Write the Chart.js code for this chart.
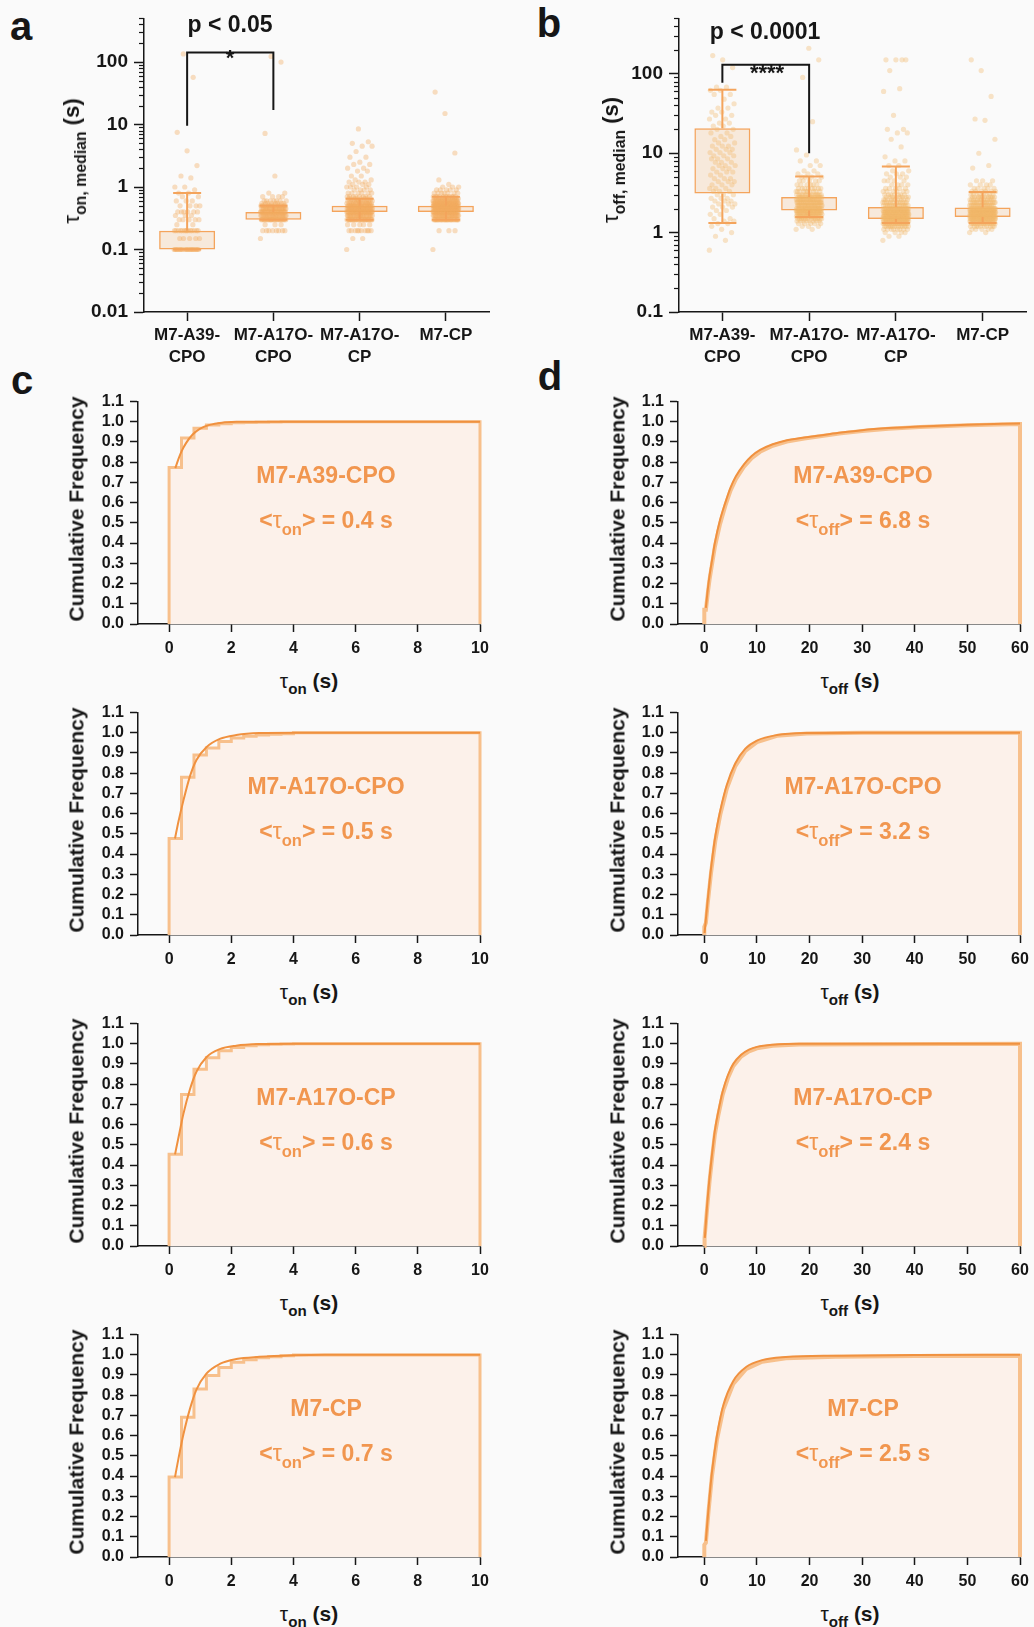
<!DOCTYPE html>
<html>
<head>
<meta charset="utf-8">
<script src="https://cdn.jsdelivr.net/npm/chart.js@4.4.1/dist/chart.umd.min.js"></script>
<style>
  body { margin: 0; background: #fafafa; }
  #fig { position: relative; width: 1034px; height: 1627px; font-family: "Liberation Sans", Arial, sans-serif; color: #161616; }
  #fig canvas { position: absolute; }
  .lbl { position: absolute; transform: translate(-50%, -50%); white-space: nowrap; font-weight: bold; line-height: 1; }
  .lbl sub { font-size: 0.72em; vertical-align: -0.45em; line-height: 0; }
  .tau { font-weight: normal; }
</style>
</head>
<body>
<div id="fig"></div>
<script>
// groups shown in every panel
const groupNames = ['M7-A39-CPO', 'M7-A17O-CPO', 'M7-A17O-CP', 'M7-CP'];
const groupTicks = [['M7-A39-', 'CPO'], ['M7-A17O-', 'CPO'], ['M7-A17O-', 'CP'], 'M7-CP'];

// mean dwell times from the exponential fits (s)
const meanOn = [0.4, 0.5, 0.6, 0.7];
const meanOff = [6.8, 3.2, 2.4, 2.5];

// panel a: per-molecule median tau_on (s), box = quartiles, whiskers
const onQ1 = [0.1, 0.3, 0.4, 0.4];
const onQ3 = [0.2, 0.4, 0.5, 0.5];
const onLo = [0.1, 0.3, 0.3, 0.3];
const onHi = [0.8, 0.5, 0.65, 0.7];
// molecule values and how many molecules share each value
const onVals = [
  [0.1, 0.15, 0.2, 0.25, 0.3, 0.35, 0.4, 0.5, 0.6, 0.7, 0.8, 0.9, 1.0, 1.4, 1.5, 2.2, 3.8, 7.5, 57, 135],
  [0.15, 0.2, 0.25, 0.3, 0.35, 0.4, 0.45, 0.5, 0.55, 0.6, 0.7, 0.8, 1.5, 7.2, 100, 123],
  [0.1, 0.15, 0.2, 0.25, 0.3, 0.35, 0.4, 0.45, 0.5, 0.55, 0.6, 0.65, 0.7, 0.8, 0.9, 1.0, 1.1, 1.2, 1.3, 1.5, 1.8, 2.0, 2.3, 2.5, 3.0, 3.7, 4.5, 5.0, 5.3, 8.5],
  [0.1, 0.2, 0.3, 0.35, 0.4, 0.45, 0.5, 0.55, 0.6, 0.65, 0.7, 0.8, 0.9, 1.0, 1.1, 1.3, 3.5, 15, 33]
];
const onCounts = [
  [20, 5, 14, 2, 5, 3, 6, 4, 3, 2, 2, 1, 2, 1, 1, 1, 1, 1, 1, 1],
  [1, 8, 3, 22, 26, 30, 24, 18, 8, 7, 4, 2, 1, 1, 1, 1],
  [1, 2, 10, 5, 28, 28, 40, 32, 30, 14, 14, 8, 8, 6, 4, 4, 3, 3, 2, 2, 2, 2, 2, 1, 2, 1, 2, 1, 1, 1],
  [1, 3, 28, 32, 45, 45, 45, 28, 22, 14, 11, 7, 5, 3, 1, 1, 1, 1, 1]
];

// panel b: per-molecule median tau_off (s)
const offQ1 = [3.1, 1.9, 1.48, 1.57];
const offQ3 = [20.7, 2.8, 2.1, 2.07];
const offLo = [1.32, 1.57, 1.32, 1.32];
const offHi = [63, 5.1, 6.8, 3.25];
const offVals = [
  [0.6, 0.8, 0.9, 1.0, 1.1, 1.2, 1.3, 1.4, 1.5, 1.7, 1.9, 2.1, 2.3, 2.5, 2.7, 3.0, 3.3, 3.6, 4.0, 4.4, 4.8, 5.3, 5.8, 6.4, 7.0, 7.7, 8.5, 9.3, 10.2, 11.2, 12.3, 13.5, 14.8, 16.3, 18, 20, 22, 24, 27, 30, 33, 37, 42, 48, 55, 62, 68, 120, 150, 170],
  [1.1, 1.2, 1.3, 1.4, 1.5, 1.6, 1.7, 1.8, 1.9, 2.0, 2.2, 2.4, 2.6, 2.8, 3.0, 3.3, 3.6, 4.0, 4.5, 5.0, 5.5, 6.0, 7.0, 8.0, 9.5, 11, 25, 90, 150, 210],
  [0.8, 0.9, 1.0, 1.1, 1.2, 1.3, 1.4, 1.5, 1.6, 1.7, 1.8, 1.9, 2.0, 2.2, 2.4, 2.6, 2.8, 3.0, 3.3, 3.6, 4.0, 4.5, 5.0, 5.5, 6.0, 7.0, 8.0, 9.0, 12, 15, 18, 20, 30, 60, 65, 110, 150],
  [1.0, 1.1, 1.2, 1.3, 1.4, 1.5, 1.6, 1.7, 1.8, 1.9, 2.0, 2.2, 2.4, 2.6, 2.8, 3.0, 3.3, 3.6, 4.0, 4.5, 6.5, 7.0, 10, 15, 26, 27, 52, 110, 150]
];
const offCounts = [
  [1, 1, 1, 1, 1, 1, 2, 2, 2, 2, 2, 3, 3, 3, 3, 3, 3, 3, 3, 3, 3, 2, 3, 3, 3, 3, 3, 3, 3, 3, 3, 2, 2, 2, 2, 2, 2, 2, 2, 2, 2, 2, 1, 1, 2, 2, 2, 1, 1, 1],
  [2, 3, 5, 8, 12, 15, 18, 20, 22, 22, 25, 22, 20, 16, 14, 10, 8, 6, 5, 4, 3, 2, 2, 2, 1, 1, 1, 1, 1, 1],
  [1, 2, 4, 8, 14, 20, 24, 26, 26, 24, 22, 20, 18, 16, 12, 10, 8, 7, 6, 5, 4, 4, 3, 3, 2, 2, 2, 1, 1, 1, 2, 2, 1, 1, 1, 1, 4],
  [2, 5, 10, 16, 22, 28, 30, 30, 28, 26, 24, 20, 16, 13, 10, 8, 6, 5, 4, 3, 1, 1, 1, 1, 1, 1, 1, 1, 1]
];

// significance brackets: [group index, value] corners
const bracketOn = [[0, 9.6], [0, 142], [1, 142], [1, 17]];
const bracketOff = [[0, 77], [0, 130], [1, 130], [1, 10]];

// panel c: empirical CDF of tau_on (0.4 s frames) and fitted curve
const onStepX = [0, 0.4, 0.8, 1.2, 1.6, 2.0, 2.4, 2.8, 3.2, 3.6, 4.0];
const onStepY = [
  [0.773, 0.919, 0.967, 0.983, 0.990, 0.994, 0.996, 0.997, 0.998, 0.999, 1.0],
  [0.477, 0.780, 0.889, 0.924, 0.956, 0.973, 0.982, 0.988, 0.992, 0.995, 1.0],
  [0.453, 0.749, 0.874, 0.930, 0.965, 0.981, 0.990, 0.994, 0.997, 0.998, 1.0],
  [0.395, 0.690, 0.830, 0.897, 0.937, 0.962, 0.975, 0.985, 0.990, 0.994, 0.998]
];
const onFitX = [
  [0.2, 0.3, 0.4, 0.55, 0.75, 1.0, 1.3, 1.7, 2.2, 3.0, 10],
  [0.19, 0.3, 0.46, 0.67, 0.88, 1.2, 1.63, 2.16, 2.9, 4.0, 10],
  [0.19, 0.3, 0.46, 0.67, 0.88, 1.2, 1.63, 2.16, 2.9, 4.0, 10],
  [0.19, 0.3, 0.46, 0.67, 0.88, 1.2, 1.63, 2.16, 2.9, 4.0, 5.0, 10]
];
const onFitY = [
  [0.77, 0.815, 0.853, 0.895, 0.935, 0.965, 0.984, 0.995, 0.999, 1.0, 1.0],
  [0.477, 0.56, 0.664, 0.784, 0.865, 0.928, 0.969, 0.988, 0.998, 1.0, 1.0],
  [0.453, 0.535, 0.653, 0.773, 0.861, 0.933, 0.973, 0.99, 0.998, 1.0, 1.0],
  [0.395, 0.485, 0.605, 0.732, 0.827, 0.906, 0.954, 0.978, 0.989, 0.997, 1.0, 1.0]
];

// panel d: empirical CDF of tau_off (finely sampled) and fitted curve
const offCdfX = [
  [0, 0.3, 0.7, 1.0, 1.5, 2.0, 3.0, 4.0, 5.0, 6.0, 7.5, 9, 10.6, 13, 15.7, 19, 22, 26, 30, 35, 41, 50, 60],
  [0, 0.3, 0.63, 1.27, 2.09, 3.04, 4.3, 5.9, 7.8, 10, 13.8, 19.5, 30, 60],
  [0, 0.1, 0.5, 1.0, 1.5, 2.0, 2.7, 3.5, 4.5, 5.5, 7, 8.5, 10, 13, 18, 60],
  [0, 0.3, 0.8, 1.45, 2.4, 3.6, 5.5, 8, 11, 15.5, 25, 40, 60]
];
const offCdfY = [
  [0.07, 0.07, 0.16, 0.22, 0.30, 0.38, 0.495, 0.585, 0.66, 0.716, 0.776, 0.82, 0.851, 0.881, 0.902, 0.917, 0.928, 0.942, 0.954, 0.965, 0.973, 0.982, 0.988],
  [0.04, 0.06, 0.15, 0.305, 0.465, 0.595, 0.725, 0.835, 0.91, 0.953, 0.984, 0.996, 0.999, 1.0],
  [0.04, 0.04, 0.175, 0.32, 0.44, 0.55, 0.65, 0.748, 0.83, 0.888, 0.936, 0.962, 0.977, 0.99, 0.996, 0.999],
  [0.06, 0.07, 0.225, 0.40, 0.58, 0.73, 0.855, 0.93, 0.965, 0.982, 0.99, 0.993, 0.995]
];
const offFitX = [
  [0.3, 0.7, 1.0, 1.5, 2.0, 3.0, 4.0, 5.0, 6.0, 7.5, 9, 10.6, 13, 15.7, 19, 22, 26, 30, 35, 41, 50, 60],
  [0.05, 0.63, 1.27, 2.09, 3.04, 4.3, 5.9, 7.8, 10, 13.8, 19.5, 30, 60],
  [0.1, 0.5, 1.0, 1.5, 2.0, 2.7, 3.5, 4.5, 5.5, 7, 8.5, 10, 13, 18, 60],
  [0.3, 0.8, 1.45, 2.4, 3.6, 5.5, 8, 11, 15.5, 25, 40, 60]
];
const offFitY = [
  [0.08, 0.18, 0.24, 0.32, 0.40, 0.515, 0.60, 0.675, 0.73, 0.788, 0.83, 0.86, 0.888, 0.908, 0.922, 0.932, 0.946, 0.958, 0.968, 0.976, 0.985, 0.991],
  [0.01, 0.168, 0.328, 0.488, 0.616, 0.744, 0.849, 0.921, 0.961, 0.988, 0.998, 1.0, 1.0],
  [0.04, 0.19, 0.34, 0.46, 0.57, 0.67, 0.765, 0.845, 0.9, 0.945, 0.97, 0.984, 0.995, 1.0, 1.0],
  [0.08, 0.24, 0.42, 0.6, 0.75, 0.87, 0.94, 0.973, 0.988, 0.995, 0.998, 1.0]
];

// axis ticks
const onLogTicks = [0.01, 0.1, 1, 10, 100];
const offLogTicks = [0.1, 1, 10, 100];
const cdfYTicks = [0, 0.1, 0.2, 0.3, 0.4, 0.5, 0.6, 0.7, 0.8, 0.9, 1.0, 1.1];
const onXTicks = [0, 2, 4, 6, 8, 10];
const offXTicks = [0, 10, 20, 30, 40, 50, 60];

const FONT = '"Liberation Sans", Arial, sans-serif';
const INK = '#161616';
const ORANGE = '#f1964f';
const BOX_LINE = '#f4a45c';
const BOX_FILL = 'rgba(242, 190, 140, 0.28)';
const DOT_ON = 'rgba(243, 170, 95, 0.38)';
const DOT_OFF = 'rgba(242, 182, 105, 0.36)';
const FIT = '#f0913f';
const STEP = '#f7c08c';
const AREA = 'rgb(252, 241, 234)';

const fig = document.getElementById('fig');

// canvas sized so the chart area lands on the given box
function addCanvas(area, yw, xh, padTop, padRight) {
  const c = document.createElement('canvas');
  const w = area.r - area.l + yw + padRight;
  const h = area.b - area.t + padTop + xh;
  c.width = w;
  c.height = h;
  c.style.left = (area.l - yw) + 'px';
  c.style.top = (area.t - padTop) + 'px';
  c.style.width = w + 'px';
  c.style.height = h + 'px';
  fig.appendChild(c);
  return c;
}

function axis(extra, size, tickLen, pad, fixed, tickVals, fmt) {
  return Object.assign({
    offset: false,
    border: { display: true, color: INK, width: 1.5 },
    grid: { drawOnChartArea: false, drawTicks: true, tickLength: tickLen, tickColor: INK, tickWidth: 1.5, offset: false },
    ticks: {
      color: INK, font: { family: FONT, size: size, weight: 'bold', lineHeight: 1.3 },
      padding: pad, autoSkip: false, maxRotation: 0, minRotation: 0, callback: fmt
    },
    afterBuildTicks: s => { s.ticks = tickVals.map(v => ({ value: v })); },
    afterFit: s => { if (s.axis === 'x') s.height = fixed; else s.width = fixed; }
  }, extra);
}

// short minor ticks between decades on log axes
const logMinorTicks = {
  id: 'logMinorTicks',
  afterDraw(chart) {
    const y = chart.scales.y;
    if (y.type !== 'logarithmic') return;
    const ctx = chart.ctx;
    ctx.save();
    ctx.strokeStyle = INK;
    ctx.lineWidth = 1.2;
    for (let e = Math.floor(Math.log10(y.min)); e <= Math.ceil(Math.log10(y.max)); e++) {
      for (let m = 2; m <= 9; m++) {
        const v = m * Math.pow(10, e);
        if (v < y.min || v > y.max) continue;
        const py = Math.round(y.getPixelForValue(v)) + 0.5;
        ctx.beginPath();
        ctx.moveTo(y.right - 5, py);
        ctx.lineTo(y.right, py);
        ctx.stroke();
      }
    }
    ctx.restore();
  }
};

const baseOptions = padding => ({
  responsive: false,
  animation: false,
  events: [],
  layout: { padding: padding },
  plugins: { legend: { display: false }, tooltip: { enabled: false } }
});

// scatter of molecules spread sideways around each group
const jitter = k => ((k * 0.6180339887) % 1 - 0.5) * 0.3;

function boxPanel(area, yMin, yMax, logTicks, q1, q3, lo, hi, vals, counts, bracket, dotColor) {
  const canvas = addCanvas(area, 90, 62, 8, 30);
  const boxes = q1.map((q, i) => ({ x: i, y: [q, q3[i]] }));
  const whiskers = [];
  const caps = [];
  q1.forEach((q, i) => {
    whiskers.push({ x: i, y: [lo[i], q] });
    whiskers.push({ x: i, y: [q3[i], hi[i]] });
    caps.push({ x: i, y: lo[i] });
    caps.push({ x: i, y: hi[i] });
  });
  const dots = [];
  vals.forEach((vs, i) => {
    let k = 0;
    vs.forEach((v, j) => {
      for (let n = 0; n < counts[i][j]; n++) dots.push({ x: i + jitter(k++), y: v });
    });
  });
  new Chart(canvas, {
    type: 'scatter',
    data: {
      datasets: [
        { type: 'line', data: bracket.map(p => ({ x: p[0], y: p[1] })), borderColor: INK, borderWidth: 2,
          pointRadius: 0, tension: 0, order: 0, clip: false },
        { type: 'scatter', data: caps, pointStyle: 'line', pointRadius: 14, borderColor: BOX_LINE, borderWidth: 2, order: 1 },
        { type: 'bar', data: whiskers, grouped: false, maxBarThickness: 2, backgroundColor: BOX_LINE, borderWidth: 0, order: 2 },
        { type: 'scatter', data: dots, pointRadius: 2.6, backgroundColor: dotColor, borderWidth: 0, order: 3 },
        { type: 'bar', data: boxes, grouped: false, maxBarThickness: 56, backgroundColor: BOX_FILL,
          borderColor: BOX_LINE, borderWidth: 1.5, borderSkipped: false, order: 4 }
      ]
    },
    options: Object.assign(baseOptions({ top: 8, right: 30, left: 0, bottom: 0 }), {
      scales: {
        x: axis({ type: 'linear', min: -0.5, max: 3.5 }, 17, 9, 3, 62, [0, 1, 2, 3], v => groupTicks[v]),
        y: axis({ type: 'logarithmic', min: yMin, max: yMax }, 19, 10, 6, 90, logTicks, v => String(v))
      }
    }),
    plugins: [logMinorTicks]
  });
}

// cumulative frequency: data CDF (filled) under the fitted curve
function cdfPanel(area, xMin, xMax, xTicks, cdfX, cdfY, fitX, fitY, stepped, cdfWidth) {
  const canvas = addCanvas(area, 75, 40, 10, 16);
  const cdf = [{ x: 0, y: 0 }].concat(cdfX.map((x, i) => ({ x: x, y: cdfY[i] })));
  cdf.push({ x: xMax, y: cdfY[cdfY.length - 1] }, { x: xMax, y: 0 });
  const fit = fitX.map((x, i) => ({ x: x, y: fitY[i] }));
  new Chart(canvas, {
    type: 'scatter',
    data: {
      datasets: [
        { type: 'line', data: fit, borderColor: FIT, borderWidth: 2, pointRadius: 0,
          cubicInterpolationMode: 'monotone', fill: false, order: 0, clip: 4 },
        { type: 'line', data: cdf, stepped: stepped, tension: 0, borderColor: STEP, borderWidth: cdfWidth,
          pointRadius: 0, fill: 'origin', backgroundColor: AREA, order: 1, clip: 4 }
      ]
    },
    options: Object.assign(baseOptions({ top: 10, right: 16, left: 0, bottom: 0 }), {
      scales: {
        x: axis({ type: 'linear', min: xMin, max: xMax }, 16, 8, 6, 40, xTicks, v => String(v)),
        y: axis({ type: 'linear', min: 0, max: 1.1 }, 16, 8, 6, 75, cdfYTicks, v => v.toFixed(1))
      }
    })
  });
}

function text(x, y, html, size, opts) {
  opts = opts || {};
  const d = document.createElement('div');
  d.className = 'lbl';
  d.style.left = x + 'px';
  d.style.top = y + 'px';
  d.style.fontSize = size + 'px';
  if (opts.color) d.style.color = opts.color;
  if (opts.rotate) d.style.transform = 'translate(-50%, -50%) rotate(-90deg)';
  d.innerHTML = html;
  fig.appendChild(d);
}

const TAU = '<span class="tau">τ</span>';

// a / b: medians per molecule
boxPanel({ l: 144, t: 8, r: 489, b: 312 }, 0.01, 500, onLogTicks, onQ1, onQ3, onLo, onHi, onVals, onCounts, bracketOn, DOT_ON);
boxPanel({ l: 679, t: 8, r: 1026, b: 312 }, 0.1, 500, offLogTicks, offQ1, offQ3, offLo, offHi, offVals, offCounts, bracketOff, DOT_OFF);

text(21, 26, 'a', 40);
text(549, 23, 'b', 40);
text(230, 24, 'p &lt; 0.05', 23);
text(230, 58, '*', 22);
text(765, 31, 'p &lt; 0.0001', 23);
text(767, 73, '****', 22);
text(72, 161, TAU + '<sub>on, median</sub> (s)', 22, { rotate: true });
text(611, 160, TAU + '<sub>off, median</sub> (s)', 22, { rotate: true });

// c / d: one row per construct
const rowTop = [395, 706, 1017, 1328];
text(22, 380, 'c', 40);
text(550, 376, 'd', 40);
rowTop.forEach((t, k) => {
  cdfPanel({ l: 138, t: t, r: 480, b: t + 229 }, -1, 10, onXTicks, onStepX, onStepY[k], onFitX[k], onFitY[k], true, 3);
  cdfPanel({ l: 678, t: t, r: 1020, b: t + 229 }, -5, 60, offXTicks, offCdfX[k], offCdfY[k], offFitX[k], offFitY[k], false, 4);

  text(76, t + 114, 'Cumulative Frequency', 21, { rotate: true });
  text(617, t + 114, 'Cumulative Frequency', 21, { rotate: true });
  text(309, t + 285, TAU + '<sub>on</sub> (s)', 21);
  text(850, t + 285, TAU + '<sub>off</sub> (s)', 21);

  text(326, t + 79.5, groupNames[k], 23, { color: ORANGE });
  text(326, t + 124.5, '&lt;' + TAU + '<sub>on</sub>&gt; = ' + meanOn[k].toFixed(1) + ' s', 23, { color: ORANGE });
  text(863, t + 79.5, groupNames[k], 23, { color: ORANGE });
  text(863, t + 124.5, '&lt;' + TAU + '<sub>off</sub>&gt; = ' + meanOff[k].toFixed(1) + ' s', 23, { color: ORANGE });
});
</script>
</body>
</html>
